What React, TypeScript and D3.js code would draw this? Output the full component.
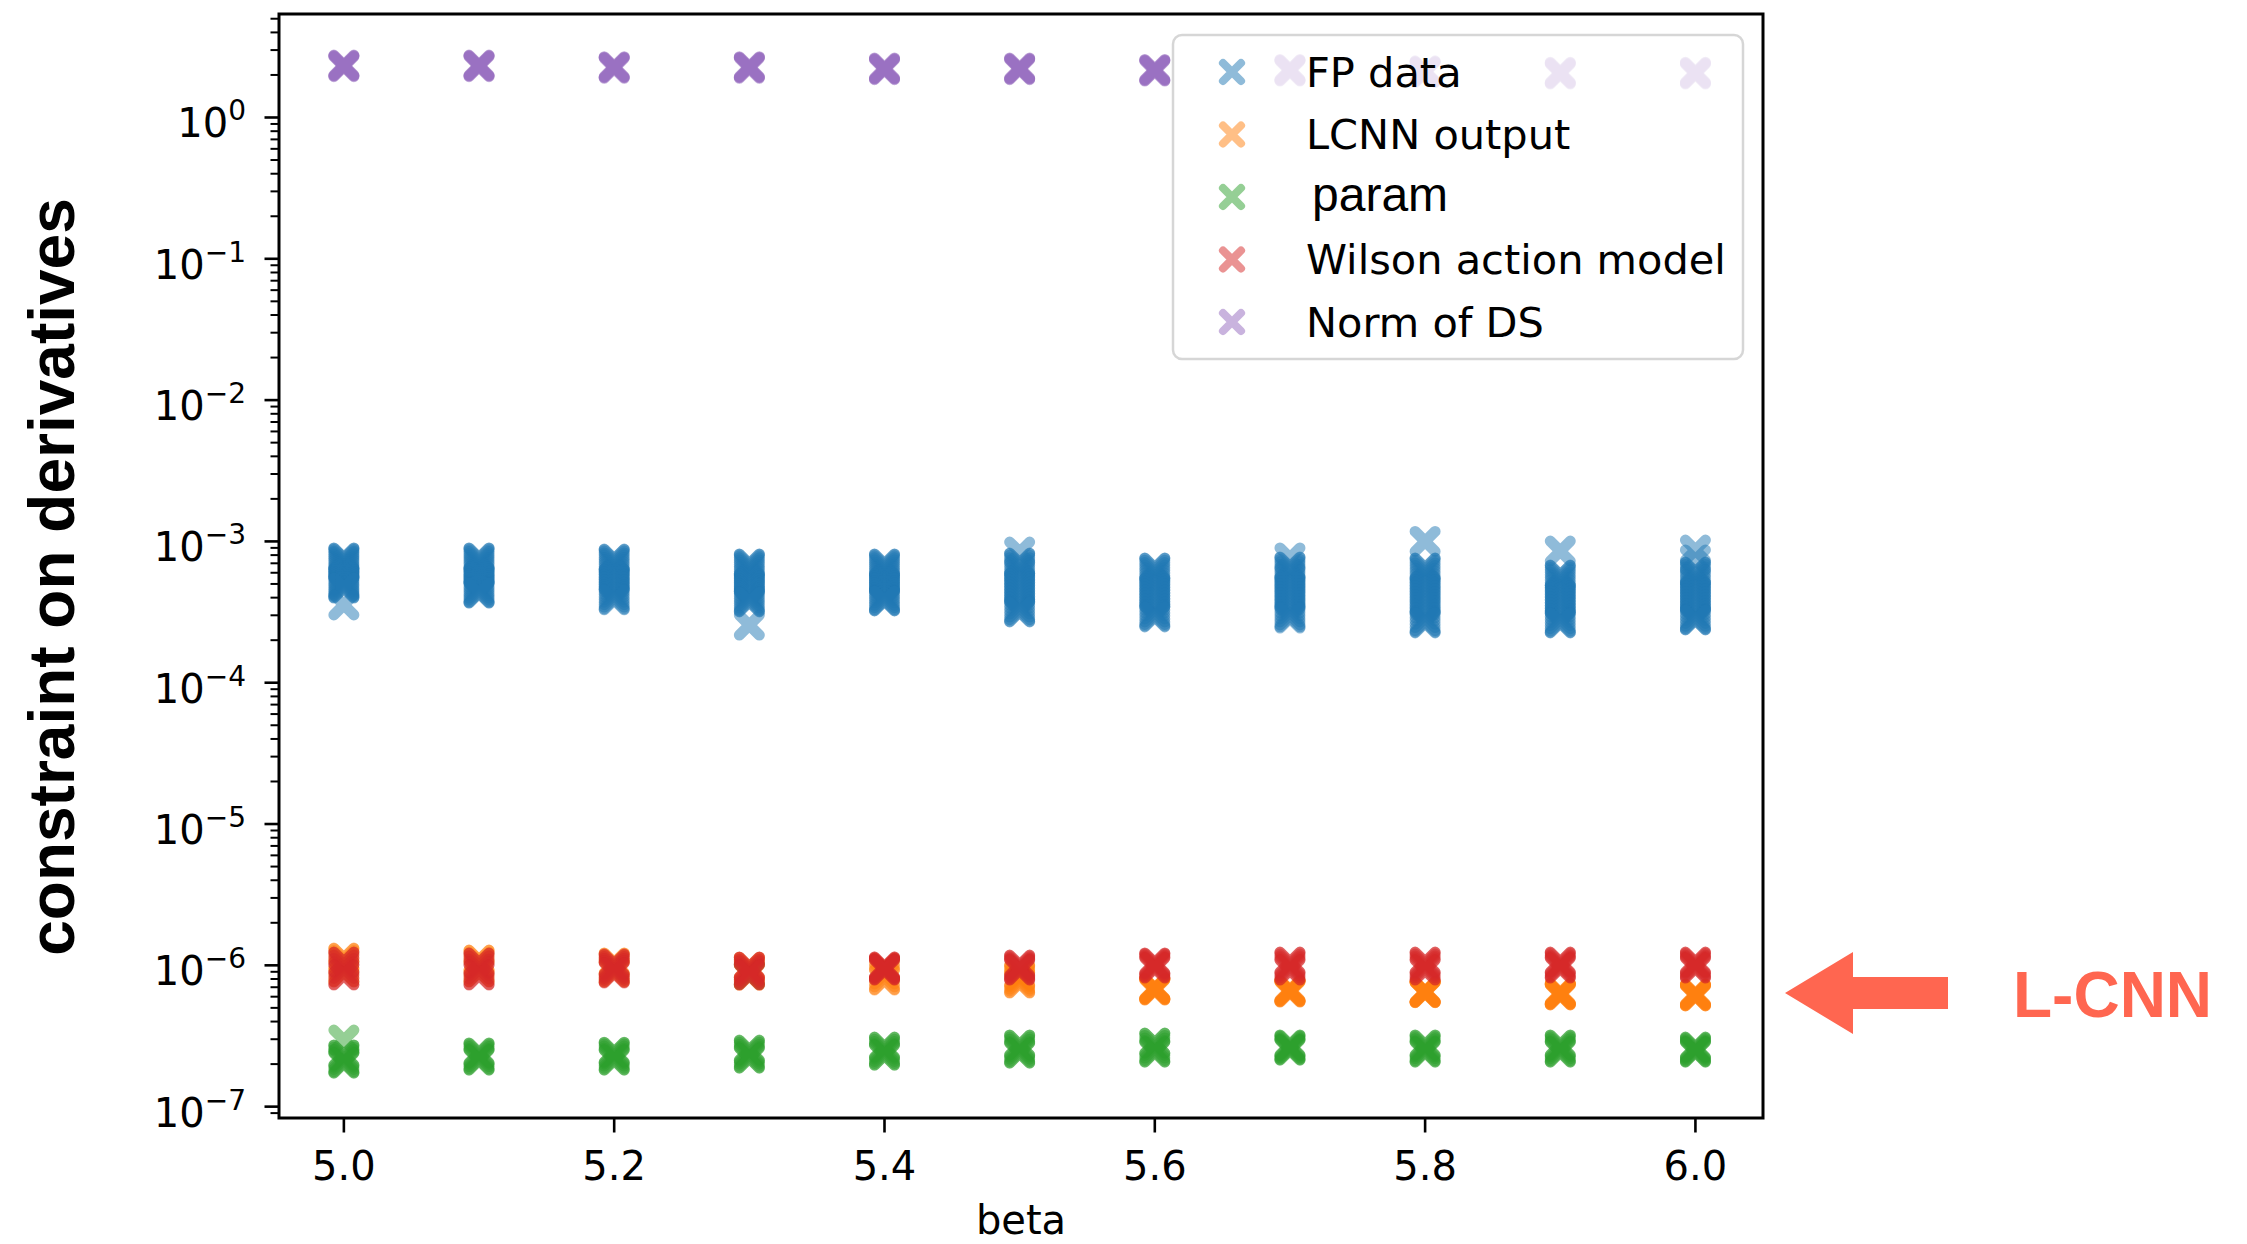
import React from "react";
import * as d3 from "d3";

// beta values on the x axis
const betas = [5.0, 5.1, 5.2, 5.3, 5.4, 5.5, 5.6, 5.7, 5.8, 5.9, 6.0];

// FP data, one list per beta, in units of 1e-4
const fpData = [
  [7.63, 7.6, 7.45, 7.25, 7.05, 6.85, 6.65, 6.45, 6.25, 6.05, 5.85, 5.7, 5.5, 5.35, 5.2, 5.05, 4.9, 4.8, 4.72, 4.68, 3.55],
  [7.63, 7.6, 7.42, 7.2, 6.95, 6.72, 6.5, 6.28, 6.05, 5.85, 5.62, 5.42, 5.22, 5.02, 4.85, 4.68, 4.52, 4.4, 4.33, 4.31],
  [7.5, 7.46, 7.28, 7.04, 6.8, 6.55, 6.32, 6.08, 5.85, 5.62, 5.4, 5.18, 4.97, 4.76, 4.56, 4.37, 4.2, 4.04, 3.92, 3.86],
  [6.92, 6.88, 6.72, 6.5, 6.28, 6.05, 5.84, 5.62, 5.42, 5.22, 5.02, 4.83, 4.64, 4.46, 4.29, 4.12, 3.97, 3.84, 3.76, 3.73, 2.56],
  [6.92, 6.88, 6.72, 6.5, 6.28, 6.06, 5.85, 5.64, 5.44, 5.24, 5.05, 4.86, 4.68, 4.5, 4.33, 4.16, 4.0, 3.88, 3.81, 3.79],
  [8.41, 7.03, 6.98, 6.78, 6.52, 6.26, 6.0, 5.75, 5.5, 5.26, 5.03, 4.8, 4.58, 4.37, 4.17, 3.97, 3.78, 3.6, 3.43, 3.29, 3.2, 3.17],
  [6.49, 6.45, 6.26, 6.02, 5.78, 5.54, 5.31, 5.08, 4.86, 4.65, 4.44, 4.24, 4.04, 3.85, 3.67, 3.5, 3.33, 3.17, 3.04, 2.96, 2.92],
  [7.63, 6.59, 6.54, 6.34, 6.09, 5.84, 5.6, 5.36, 5.13, 4.9, 4.68, 4.47, 4.26, 4.06, 3.87, 3.68, 3.5, 3.33, 3.17, 3.02, 2.93, 2.87],
  [10.0, 6.49, 6.45, 6.24, 5.99, 5.74, 5.49, 5.25, 5.02, 4.79, 4.57, 4.36, 4.15, 3.95, 3.76, 3.57, 3.39, 3.22, 3.05, 2.89, 2.75, 2.68, 2.65],
  [8.55, 5.78, 5.74, 5.56, 5.35, 5.14, 4.93, 4.73, 4.53, 4.34, 4.15, 3.97, 3.79, 3.62, 3.45, 3.29, 3.13, 2.98, 2.84, 2.73, 2.67, 2.65],
  [8.69, 7.4, 6.07, 6.03, 5.84, 5.61, 5.38, 5.16, 4.94, 4.73, 4.52, 4.32, 4.13, 3.94, 3.76, 3.58, 3.41, 3.25, 3.09, 2.95, 2.85, 2.8, 2.78],
];

// LCNN output, in units of 1e-6
const lcnnOutput = [
  [1.126, 1.12, 1.08, 1.02, 0.96, 0.91, 0.897],
  [1.09, 1.085, 1.05, 1.0, 0.95, 0.905, 0.897],
  [1.04, 1.035, 1.0, 0.96, 0.93, 0.9, 0.897],
  [0.97, 0.965, 0.94, 0.91, 0.88, 0.86, 0.85],
  [0.957, 0.952, 0.92, 0.87, 0.83, 0.795, 0.787],
  [0.854, 0.85, 0.83, 0.8, 0.775, 0.755, 0.749],
  [0.691, 0.688, 0.684, 0.68, 0.675, 0.671, 0.669],
  [0.669, 0.666, 0.662, 0.658, 0.654, 0.65, 0.647],
  [0.655, 0.652, 0.65, 0.647, 0.645, 0.642, 0.64],
  [0.637, 0.634, 0.63, 0.626, 0.622, 0.619, 0.617],
  [0.627, 0.624, 0.62, 0.616, 0.612, 0.609, 0.607],
];

// param, in units of 1e-7
const paramValues = [
  [2.96, 2.32, 2.31, 2.24, 2.16, 2.08, 2.04, 2.035],
  [2.4, 2.39, 2.33, 2.26, 2.19, 2.14, 2.137],
  [2.43, 2.42, 2.36, 2.28, 2.2, 2.14, 2.137],
  [8.6, 2.515, 2.5, 2.43, 2.35, 2.27, 2.21, 2.208],
  [2.64, 2.63, 2.55, 2.46, 2.38, 2.32, 2.319],
  [2.73, 2.72, 2.64, 2.55, 2.46, 2.4, 2.395],
  [2.82, 2.81, 2.71, 2.6, 2.5, 2.44, 2.434],
  [2.73, 2.72, 2.67, 2.61, 2.56, 2.52, 2.515],
  [2.73, 2.72, 2.65, 2.57, 2.49, 2.44, 2.434],
  [2.73, 2.72, 2.65, 2.57, 2.49, 2.44, 2.434],
  [2.64, 2.63, 2.58, 2.52, 2.47, 2.44, 2.434],
];

// Wilson action model, in units of 1e-6
const wilsonModel = [
  [1.055, 1.05, 1.0, 0.95, 0.9, 0.86, 0.854],
  [1.038, 1.033, 0.99, 0.94, 0.9, 0.86, 0.854],
  [1.02, 1.015, 0.98, 0.95, 0.92, 0.89, 0.882],
  [0.973, 0.968, 0.94, 0.91, 0.88, 0.86, 0.854],
  [0.975, 0.972, 0.96, 0.95, 0.94, 0.93, 0.926],
  [1.005, 1.0, 0.98, 0.96, 0.945, 0.93, 0.926],
  [1.04, 1.035, 1.02, 1.0, 0.98, 0.96, 0.957],
  [1.055, 1.05, 1.02, 0.99, 0.96, 0.93, 0.926],
  [1.055, 1.05, 1.02, 0.99, 0.96, 0.93, 0.926],
  [1.055, 1.05, 1.03, 1.0, 0.98, 0.96, 0.957],
  [1.055, 1.05, 1.03, 1.0, 0.98, 0.96, 0.957],
];

// Norm of DS
const normDS = [
  [2.35, 2.33, 2.31, 2.29],
  [2.35, 2.33, 2.31, 2.29],
  [2.29, 2.27, 2.25, 2.23],
  [2.29, 2.27, 2.25, 2.23],
  [2.24, 2.22, 2.2, 2.18],
  [2.24, 2.22, 2.2, 2.18],
  [2.19, 2.17, 2.15, 2.13],
  [2.19, 2.17, 2.15, 2.13],
  [2.14, 2.12, 2.1, 2.08],
  [2.09, 2.07, 2.05, 2.03],
  [2.09, 2.07, 2.05, 2.03],
];

const xTicks = [5.0, 5.2, 5.4, 5.6, 5.8, 6.0];
const yTickExponents = [0, -1, -2, -3, -4, -5, -6, -7];
const legendLabels = ["FP data", "LCNN output", "param", "Wilson action model", "Norm of DS"];
const seriesColors = ["#1f77b4", "#ff7f0e", "#2ca02c", "#d62728", "#9467bd"];

const seriesData = [
  { values: fpData, unit: 1e-4 },
  { values: lcnnOutput, unit: 1e-6 },
  { values: paramValues, unit: 1e-7 },
  { values: wilsonModel, unit: 1e-6 },
  { values: normDS, unit: 1 },
];

const W = 2247;
const H = 1244;
const M = { left: 279, right: 1763, top: 14, bottom: 1118 };

const x = d3.scaleLinear().domain([4.952, 6.05]).range([M.left, M.right]);
const y = d3.scaleLog().domain([8.31e-8, 5.4]).range([M.bottom, M.top]);

const MK = 10;
const markerPath = `M${-MK},${-MK}L${MK},${MK}M${-MK},${MK}L${MK},${-MK}`;
const DEJAVU = "'DejaVu Sans', sans-serif";
const ARIAL = "'Liberation Sans', Arial, sans-serif";
const ACCENT = "#ff6650";

function minorTicks(): number[] {
  const [lo, hi] = y.domain();
  const out: number[] = [];
  for (let e = -8; e <= 0; e++) {
    for (let k = 2; k <= 9; k++) {
      const v = k * Math.pow(10, e);
      if (v >= lo && v <= hi) out.push(v);
    }
  }
  return out;
}

export default function App() {
  const points: { s: number; bx: number; v: number }[] = [];
  seriesData.forEach((sd, s) => {
    sd.values.forEach((list, i) => {
      list.forEach((val) => points.push({ s, bx: betas[i], v: val * sd.unit }));
    });
  });

  const legendX = 1173;
  const legendY = 35;
  const rowY = (i: number) => 72 + i * 62.5;

  return (
    <svg
      width={W}
      height={H}
      style={{ position: "absolute", left: 0, top: 0, background: "#fff" }}
    >
      <rect x={0} y={0} width={W} height={H} fill="#fff" />

      {/* scatter markers */}
      <g>
        {points.map((p, i) => (
          <path
            key={i}
            d={markerPath}
            transform={`translate(${x(p.bx)},${y(p.v)})`}
            fill="none"
            stroke={seriesColors[p.s]}
            strokeOpacity={0.5}
            strokeWidth={11}
            strokeLinecap="round"
          />
        ))}
      </g>

      {/* ticks */}
      <g stroke="#000" strokeWidth={2.6}>
        {yTickExponents.map((e) => (
          <line key={e} x1={M.left - 14.5} x2={M.left} y1={y(Math.pow(10, e))} y2={y(Math.pow(10, e))} />
        ))}
        {minorTicks().map((v, i) => (
          <line key={"m" + i} x1={M.left - 8.5} x2={M.left} y1={y(v)} y2={y(v)} strokeWidth={2} />
        ))}
        {xTicks.map((t) => (
          <line key={t} x1={x(t)} x2={x(t)} y1={M.bottom} y2={M.bottom + 14.5} />
        ))}
      </g>

      {/* tick labels */}
      <g fontFamily={DEJAVU} fill="#000">
        {yTickExponents.map((e) => (
          <text key={e} x={246} y={y(Math.pow(10, e)) + 20} textAnchor="end" fontSize={40}>
            10
            <tspan dy={-17} fontSize={28}>
              {e === 0 ? "0" : "\u2212" + Math.abs(e)}
            </tspan>
          </text>
        ))}
        {xTicks.map((t) => (
          <text key={t} x={x(t)} y={1180} textAnchor="middle" fontSize={40}>
            {t.toFixed(1)}
          </text>
        ))}
        <text x={(M.left + M.right) / 2} y={1234} textAnchor="middle" fontSize={40}>
          beta
        </text>
      </g>

      {/* axes frame */}
      <rect
        x={M.left}
        y={M.top}
        width={M.right - M.left}
        height={M.bottom - M.top}
        fill="none"
        stroke="#000"
        strokeWidth={3}
      />

      {/* legend */}
      <g>
        <rect
          x={legendX}
          y={legendY}
          width={570}
          height={324}
          rx={9}
          fill="#fff"
          fillOpacity={0.8}
          stroke="#cccccc"
          strokeOpacity={0.8}
          strokeWidth={2.5}
        />
        {legendLabels.map((lab, i) => (
          <g key={lab}>
            <path
              d={markerPath}
              transform={`translate(1232,${rowY(i)}) scale(0.9)`}
              fill="none"
              stroke={seriesColors[i]}
              strokeOpacity={0.5}
              strokeWidth={9}
              strokeLinecap="round"
            />
            {lab === "param" ? (
              <text x={1312} y={rowY(i) + 14} fontFamily={ARIAL} fontSize={48} fill="#000">
                {lab}
              </text>
            ) : (
              <text x={1306} y={rowY(i) + 14.5} fontFamily={DEJAVU} fontSize={41.5} fill="#000">
                {lab}
              </text>
            )}
          </g>
        ))}
      </g>

      {/* y axis title */}
      <text
        transform="translate(74,577) rotate(-90)"
        textAnchor="middle"
        fontFamily={ARIAL}
        fontWeight="bold"
        fontSize={64}
        fill="#000"
      >
        constraint on derivatives
      </text>

      {/* L-CNN annotation */}
      <polygon
        points="1785,993 1853,952 1853,977 1948,977 1948,1009 1853,1009 1853,1034"
        fill={ACCENT}
      />
      <text x={2013} y={1017} fontFamily={ARIAL} fontWeight="bold" fontSize={64} fill={ACCENT}>
        L-CNN
      </text>
    </svg>
  );
}
